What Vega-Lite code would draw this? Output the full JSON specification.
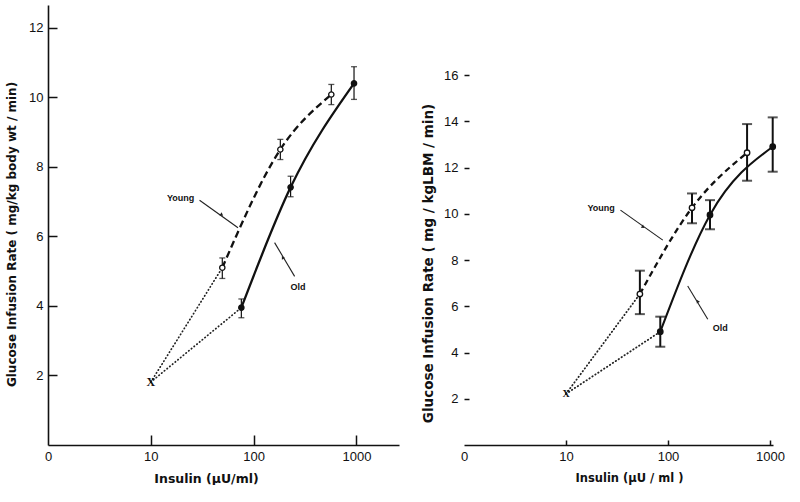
{
  "$schema": "https://vega.github.io/schema/vega-lite/v6.json",
  "background": "white",
  "padding": {"left": 4, "top": 5, "right": 0, "bottom": 0},
  "bounds": "flush",
  "spacing": 65,
  "config": {
    "view": {"stroke": null},
    "axis": {
      "grid": false,
      "zindex": 1,
      "labelFont": "Liberation Sans",
      "titleFont": "DejaVu Sans",
      "labelColor": "#111",
      "titleColor": "#111",
      "domainColor": "#111",
      "tickColor": "#111",
      "domainWidth": 1.6,
      "tickWidth": 1.5,
      "labelFontSize": 13,
      "titleFontSize": 12,
      "titleFontWeight": "bold",
      "labelFlush": false,
      "labelOverlap": false
    }
  },
  "datasets": {
    "left_pts": [
      {"group": "Young", "insulin": 49.6, "rate": 5.1, "lo": 4.79, "hi": 5.38},
      {"group": "Young", "insulin": 182, "rate": 8.5, "lo": 8.21, "hi": 8.79},
      {"group": "Young", "insulin": 570, "rate": 10.08, "lo": 9.79, "hi": 10.37},
      {"group": "Old", "insulin": 76, "rate": 3.95, "lo": 3.66, "hi": 4.2},
      {"group": "Old", "insulin": 229, "rate": 7.41, "lo": 7.14, "hi": 7.73},
      {"group": "Old", "insulin": 948, "rate": 10.4, "lo": 9.94, "hi": 10.88}
    ],
    "left_base": [{"label": "X", "insulin": 10, "rate": 1.81}],
    "left_dotted": [
      {"group": "Young", "insulin": 10, "rate": 1.81},
      {"group": "Young", "insulin": 49.6, "rate": 5.1},
      {"group": "Old", "insulin": 10, "rate": 1.81},
      {"group": "Old", "insulin": 76, "rate": 3.95}
    ],
    "left_text": [
      {"label": "Young", "insulin": 19.5, "rate": 7.09},
      {"label": "Old", "insulin": 270, "rate": 4.55}
    ],
    "left_arrows": [
      {"label": "Young", "insulin": 29.8, "rate": 7.04, "insulin2": 70.5, "rate2": 6.25, "hx": 48.6, "hy": 6.63},
      {"label": "Old", "insulin": 250.6, "rate": 4.85, "insulin2": 160, "rate2": 5.82, "hx": 193, "hy": 5.38}
    ],
    "right_pts": [
      {"group": "Young", "insulin": 53, "rate": 6.53, "lo": 5.66, "hi": 7.54},
      {"group": "Young", "insulin": 172, "rate": 10.26, "lo": 9.59, "hi": 10.88},
      {"group": "Young", "insulin": 596, "rate": 12.64, "lo": 11.43, "hi": 13.88},
      {"group": "Old", "insulin": 84, "rate": 4.9, "lo": 4.25, "hi": 5.55},
      {"group": "Old", "insulin": 258, "rate": 9.95, "lo": 9.33, "hi": 10.59},
      {"group": "Old", "insulin": 1063, "rate": 12.9, "lo": 11.82, "hi": 14.17}
    ],
    "right_base": [{"label": "X", "insulin": 10, "rate": 2.21}],
    "right_dotted": [
      {"group": "Young", "insulin": 10, "rate": 2.21},
      {"group": "Young", "insulin": 53, "rate": 6.53},
      {"group": "Old", "insulin": 10, "rate": 2.21},
      {"group": "Old", "insulin": 84, "rate": 4.9}
    ],
    "right_text": [
      {"label": "Young", "insulin": 22.1, "rate": 10.24},
      {"label": "Old", "insulin": 326, "rate": 5.05}
    ],
    "right_arrows": [
      {"label": "Young", "insulin": 34.2, "rate": 10.16, "insulin2": 88.9, "rate2": 8.86, "hx": 56.6, "hy": 9.44},
      {"label": "Old", "insulin": 245.5, "rate": 5.44, "insulin2": 156, "rate2": 6.88, "hx": 196, "hy": 6.2}
    ]
  },
  "hconcat": [
    {
      "width": 351,
      "height": 440,
      "resolve": {"axis": {"x": "independent", "y": "independent"}},
      "layer": [
        {
          "encoding": {
            "x": {
              "field": "insulin", "type": "quantitative",
              "scale": {"type": "log", "domain": [1, 2596], "nice": false},
              "axis": {
                "title": "Insulin (µU/ml)",
                "values": [1, 10, 100, 1000],
                "labelExpr": "datum.value == 1 ? '0' : format(datum.value, 'd')",
                "ticks": false, "tickSize": 0,
                "labelPadding": 5,
                "titleX": 158, "titleY": 33, "titleAlign": "center", "titleBaseline": "middle", "titleFontSize": 12.5
              }
            },
            "y": {
              "field": "rate", "type": "quantitative",
              "scale": {"domain": [0, 12.655], "nice": false, "zero": false},
              "axis": {
                "title": "Glucose  Infusion  Rate  ( mg/kg body wt / min)",
                "values": [2, 4, 6, 8, 10, 12],
                "ticks": false, "tickSize": 0,
                "labelPadding": 5,
                "titleX": -37, "titleY": 229, "titleAngle": 270, "titleAlign": "center", "titleBaseline": "middle"
              }
            }
          },
          "layer": [
            {
              "data": {"name": "left_dotted"},
              "mark": {"type": "line", "strokeDash": [0.5, 3], "strokeCap": "round", "strokeWidth": 1.7, "color": "#222"},
              "encoding": {"detail": {"field": "group"}}
            },
            {
              "data": {"name": "left_pts"},
              "transform": [{"filter": "datum.group == 'Young'"}],
              "mark": {"type": "line", "interpolate": "monotone", "strokeDash": [7, 4], "strokeWidth": 2.3, "color": "#111"},
              "encoding": {}
            },
            {
              "data": {"name": "left_pts"},
              "transform": [{"filter": "datum.group == 'Old'"}],
              "mark": {"type": "line", "interpolate": "monotone", "strokeWidth": 2.3, "color": "#111"},
              "encoding": {}
            },
            {
              "data": {"name": "left_pts"},
              "mark": {"type": "rule", "strokeWidth": 1.2, "color": "#111"},
              "encoding": {"y": {"field": "lo", "type": "quantitative"}, "y2": {"field": "hi"}}
            },
            {
              "data": {"name": "left_pts"},
              "mark": {"type": "tick", "orient": "horizontal", "size": 6, "thickness": 1.3, "color": "#111"},
              "encoding": {"y": {"field": "lo", "type": "quantitative"}}
            },
            {
              "data": {"name": "left_pts"},
              "mark": {"type": "tick", "orient": "horizontal", "size": 6, "thickness": 1.3, "color": "#111"},
              "encoding": {"y": {"field": "hi", "type": "quantitative"}}
            },
            {
              "data": {"name": "left_pts"},
              "mark": {"type": "point", "shape": "circle", "filled": true, "size": 28, "stroke": "#111", "strokeWidth": 1.3, "opacity": 1},
              "encoding": {
                "fill": {"field": "group", "type": "nominal", "scale": {"domain": ["Young", "Old"], "range": ["white", "#111"]}, "legend": null}
              }
            },
            {
              "data": {"name": "left_base"},
              "mark": {"type": "text", "font": "Liberation Serif", "fontWeight": "bold", "fontSize": 12, "baseline": "middle", "align": "center", "color": "#111"},
              "encoding": {"text": {"field": "label"}}
            },
            {
              "data": {"name": "left_text"},
              "mark": {"type": "text", "font": "Liberation Sans", "fontWeight": "bold", "fontSize": 9, "baseline": "middle", "align": "center", "color": "#111"},
              "encoding": {"text": {"field": "label"}}
            },
            {
              "data": {"name": "left_arrows"},
              "mark": {"type": "rule", "strokeWidth": 1.1, "color": "#222"},
              "encoding": {"x2": {"field": "insulin2"}, "y2": {"field": "rate2"}}
            },
            {
              "data": {"name": "left_arrows"},
              "mark": {"type": "point", "shape": "triangle", "filled": true, "size": 14, "color": "#222", "opacity": 1},
              "encoding": {
                "x": {"field": "hx", "type": "quantitative"},
                "y": {"field": "hy", "type": "quantitative"},
                "angle": {"field": "label", "type": "nominal", "scale": {"domain": ["Young", "Old"], "range": [125, 330]}, "legend": null}
              }
            }
          ]
        },
        {
          "data": {"name": "left_base"},
          "mark": {"type": "point", "opacity": 0},
          "encoding": {
            "x": {
              "field": "insulin", "type": "quantitative",
              "scale": {"type": "log", "domain": [1, 2596], "nice": false},
              "axis": {"orient": "top", "offset": -440, "values": [10, 100, 1000], "labels": false, "domain": false, "title": null, "tickSize": 10}
            },
            "y": {
              "field": "rate", "type": "quantitative",
              "scale": {"domain": [0, 12.655], "nice": false, "zero": false},
              "axis": {"orient": "right", "offset": -351, "values": [2, 4, 6, 8, 10, 12], "labels": false, "domain": false, "title": null, "tickSize": 9}
            }
          }
        }
      ]
    },
    {
      "width": 309,
      "height": 440,
      "resolve": {"axis": {"x": "independent", "y": "independent"}},
      "layer": [
        {
          "encoding": {
            "x": {
              "field": "insulin", "type": "quantitative",
              "scale": {"type": "log", "domain": [1, 1070], "nice": false},
              "axis": {
                "title": "Insulin (µU / ml )",
                "values": [1, 10, 100, 1000],
                "labelExpr": "datum.value == 1 ? '0' : format(datum.value, 'd')",
                "ticks": false, "tickSize": 0,
                "labelPadding": 5,
                "titleX": 165, "titleY": 33, "titleAlign": "center", "titleBaseline": "middle", "titleFontSize": 11.5
              }
            },
            "y": {
              "field": "rate", "type": "quantitative",
              "scale": {"domain": [0, 19.03], "nice": false, "zero": false},
              "axis": {
                "title": "Glucose  Infusion  Rate  ( mg / kgLBM / min)",
                "values": [2, 4, 6, 8, 10, 12, 14, 16],
                "domain": false,
                "ticks": false, "tickSize": 0,
                "labelPadding": 6,
                "titleX": -36, "titleY": 258, "titleAngle": 270, "titleAlign": "center", "titleBaseline": "middle", "titleFontSize": 13.5
              }
            }
          },
          "layer": [
            {
              "data": {"values": [{}]},
              "mark": {"type": "rule", "strokeWidth": 1.6, "color": "#111"},
              "encoding": {"x": {"datum": 1}, "y": {"datum": 0}, "y2": {"datum": 16.1}}
            },
            {
              "data": {"name": "right_dotted"},
              "mark": {"type": "line", "strokeDash": [0.5, 3], "strokeCap": "round", "strokeWidth": 1.8, "color": "#222"},
              "encoding": {"detail": {"field": "group"}}
            },
            {
              "data": {"name": "right_pts"},
              "transform": [{"filter": "datum.group == 'Young'"}],
              "mark": {"type": "line", "interpolate": "monotone", "strokeDash": [6, 4], "strokeWidth": 2.3, "color": "#111"},
              "encoding": {}
            },
            {
              "data": {"name": "right_pts"},
              "transform": [{"filter": "datum.group == 'Old'"}],
              "mark": {"type": "line", "interpolate": "monotone", "strokeWidth": 2.1, "color": "#111"},
              "encoding": {}
            },
            {
              "data": {"name": "right_pts"},
              "mark": {"type": "rule", "strokeWidth": 2, "color": "#111"},
              "encoding": {"y": {"field": "lo", "type": "quantitative"}, "y2": {"field": "hi"}}
            },
            {
              "data": {"name": "right_pts"},
              "mark": {"type": "tick", "orient": "horizontal", "size": 10, "thickness": 2, "color": "#111"},
              "encoding": {"y": {"field": "lo", "type": "quantitative"}}
            },
            {
              "data": {"name": "right_pts"},
              "mark": {"type": "tick", "orient": "horizontal", "size": 10, "thickness": 2, "color": "#111"},
              "encoding": {"y": {"field": "hi", "type": "quantitative"}}
            },
            {
              "data": {"name": "right_pts"},
              "mark": {"type": "point", "shape": "circle", "filled": true, "size": 30, "stroke": "#111", "strokeWidth": 1.3, "opacity": 1},
              "encoding": {
                "fill": {"field": "group", "type": "nominal", "scale": {"domain": ["Young", "Old"], "range": ["white", "#111"]}, "legend": null}
              }
            },
            {
              "data": {"name": "right_base"},
              "mark": {"type": "text", "font": "Liberation Serif", "fontWeight": "bold", "fontSize": 10, "baseline": "middle", "align": "center", "color": "#111"},
              "encoding": {"text": {"field": "label"}}
            },
            {
              "data": {"name": "right_text"},
              "mark": {"type": "text", "font": "Liberation Sans", "fontWeight": "bold", "fontSize": 9, "baseline": "middle", "align": "center", "color": "#111"},
              "encoding": {"text": {"field": "label"}}
            },
            {
              "data": {"name": "right_arrows"},
              "mark": {"type": "rule", "strokeWidth": 1.1, "color": "#222"},
              "encoding": {"x2": {"field": "insulin2"}, "y2": {"field": "rate2"}}
            },
            {
              "data": {"name": "right_arrows"},
              "mark": {"type": "point", "shape": "triangle", "filled": true, "size": 14, "color": "#222", "opacity": 1},
              "encoding": {
                "x": {"field": "hx", "type": "quantitative"},
                "y": {"field": "hy", "type": "quantitative"},
                "angle": {"field": "label", "type": "nominal", "scale": {"domain": ["Young", "Old"], "range": [125, 330]}, "legend": null}
              }
            }
          ]
        },
        {
          "data": {"name": "right_base"},
          "mark": {"type": "point", "opacity": 0},
          "encoding": {
            "x": {
              "field": "insulin", "type": "quantitative",
              "scale": {"type": "log", "domain": [1, 1070], "nice": false},
              "axis": {"orient": "top", "offset": -440, "values": [10, 100, 1000], "labels": false, "domain": false, "title": null, "tickSize": 5}
            },
            "y": {
              "field": "rate", "type": "quantitative",
              "scale": {"domain": [0, 19.03], "nice": false, "zero": false},
              "axis": {"orient": "right", "offset": -309, "values": [2, 4, 6, 8, 10, 12, 14, 16], "labels": false, "domain": false, "title": null, "tickSize": 5}
            }
          }
        }
      ]
    }
  ]
}
